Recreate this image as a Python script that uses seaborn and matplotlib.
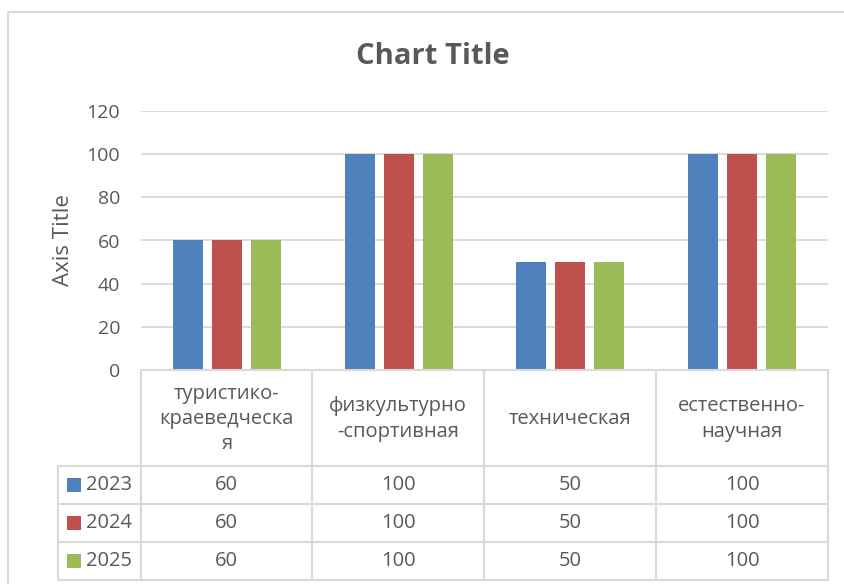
import matplotlib
matplotlib.use("Agg")
import matplotlib.pyplot as plt
import seaborn as sns
import pandas as pd
from matplotlib.lines import Line2D
from matplotlib.patches import Rectangle

categories = ["туристико-краеведческая", "физкультурно-спортивная", "техническая", "естественно-научная"]
header_labels = ["туристико-\nкраеведческа\nя", "физкультурно\n-спортивная", "техническая", "естественно-\nнаучная"]
series_names = ["2023", "2024", "2025"]
values_2023 = [60, 100, 50, 100]
values_2024 = [60, 100, 50, 100]
values_2025 = [60, 100, 50, 100]
y_ticks = [0, 20, 40, 60, 80, 100, 120]
colors = ["#4F81BD", "#C0504D", "#9BBB59"]

series_values = [values_2023, values_2024, values_2025]
rows = []
for name, vals in zip(series_names, series_values):
    for c, v in zip(categories, vals):
        rows.append({"category": c, "year": name, "value": v})
df = pd.DataFrame(rows)

sns.set_theme(style="white")
FONT = ["Open Sans", "DejaVu Sans"]
plt.rcParams["font.family"] = FONT
TXT = "#595959"
GRID = "#D9D9D9"

W, H = 845, 584
fig = plt.figure(figsize=(W / 100, H / 100), dpi=100)

def fx(x):
    return x / W

def fy(y):
    return 1 - y / H

# axes placement (pixels)
L, R, T, B = 141, 828, 111, 370
ax = fig.add_axes([fx(L), fy(B), fx(R - L), (B - T) / H])

sns.barplot(data=df, x="category", y="value", hue="year", order=categories,
            hue_order=series_names, palette=colors, width=0.682, gap=0.23,
            saturation=1, ax=ax, legend=False, linewidth=0)

ax.set_ylim(0, 120)
ax.set_xlim(-0.5, len(categories) - 0.5)
ax.set_yticks(y_ticks)
ax.set_yticklabels([str(t) for t in y_ticks], color=TXT, fontsize=14)
ax.tick_params(axis="y", length=0, pad=15)
ax.set_xticks([])
ax.set_xlabel("")
ax.set_ylabel("Axis Title", color=TXT, fontsize=16, labelpad=9)
ax.yaxis.grid(True, color=GRID, linewidth=1.3)
ax.set_axisbelow(True)
for s in ax.spines.values():
    s.set_visible(False)

# chart border
fig.add_artist(Rectangle((fx(8), fy(600)), fx(845 - 8 + 10), (600 - 12) / H,
                         transform=fig.transFigure, fill=False,
                         edgecolor=GRID, linewidth=1.5))

fig.text(fx(433), fy(57), "Chart Title", ha="center", va="center",
         fontsize=21, fontweight="bold", color=TXT)

# data table
xs = [141, 312.5, 484, 656, 828]
row_y = [370, 466, 504, 542, 580]
lw = 1.5

def hline(x0, x1, y):
    fig.add_artist(Line2D([fx(x0), fx(x1)], [fy(y), fy(y)], transform=fig.transFigure,
                          color=GRID, linewidth=lw))

def vline(x, y0, y1):
    fig.add_artist(Line2D([fx(x), fx(x)], [fy(y0), fy(y1)], transform=fig.transFigure,
                          color=GRID, linewidth=lw))

hline(xs[0], xs[-1], row_y[0])
for y in row_y[1:]:
    hline(58, xs[-1], y)
for x in xs:
    vline(x, row_y[0], row_y[-1])
vline(58, row_y[1], row_y[-1])

for i, lab in enumerate(header_labels):
    cx = (xs[i] + xs[i + 1]) / 2
    fig.text(fx(cx), fy((row_y[0] + row_y[1]) / 2 + 1), lab, ha="center", va="center",
             fontsize=14.5, color=TXT, linespacing=1.35)

for r, (name, vals) in enumerate(zip(series_names, series_values)):
    cy = (row_y[r + 1] + row_y[r + 2]) / 2
    fig.add_artist(Rectangle((fx(67), fy(cy + 7)), fx(14), 14 / H, transform=fig.transFigure,
                             facecolor=colors[r], edgecolor="none"))
    fig.text(fx(86), fy(cy), name, ha="left", va="center", fontsize=14.5, color=TXT)
    for i, v in enumerate(vals):
        cx = (xs[i] + xs[i + 1]) / 2
        fig.text(fx(cx), fy(cy), str(v), ha="center", va="center", fontsize=14.5, color=TXT)

fig.savefig("out.png", dpi=100, facecolor="white")
